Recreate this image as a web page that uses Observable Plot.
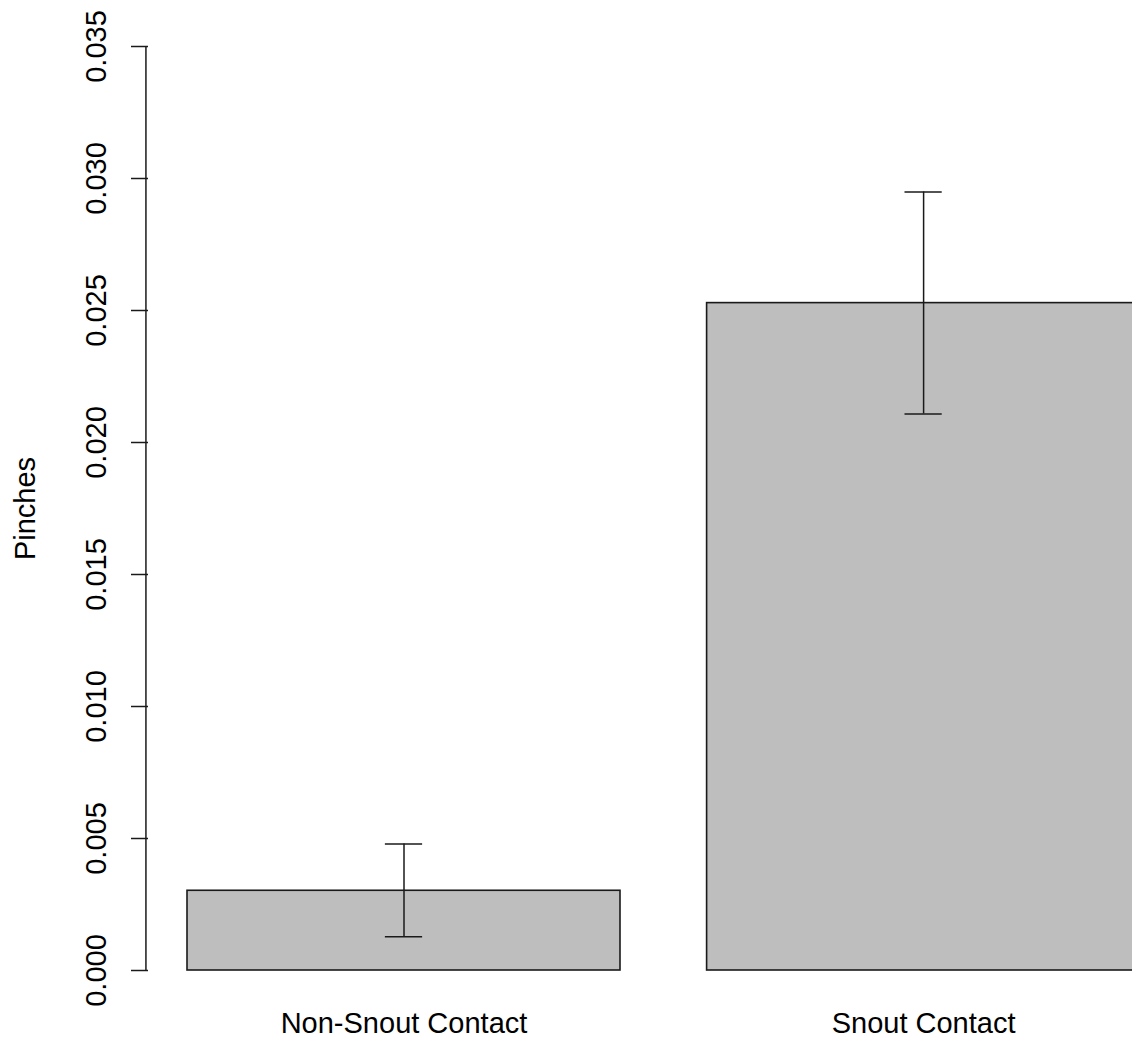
<!DOCTYPE html>
<html>
<head>
<meta charset="utf-8">
<script src="https://cdn.jsdelivr.net/npm/d3@7"></script>
<script src="https://cdn.jsdelivr.net/npm/@observablehq/plot@0.6"></script>
<style>
  html, body { margin: 0; padding: 0; background: white; overflow: hidden; }
</style>
</head>
<body>
<div id="chart"></div>
<script>
const categories = ["Non-Snout Contact", "Snout Contact"];
const means = [0.00302, 0.02528];
const lower = [0.00128, 0.02108];
const upper = [0.00479, 0.02949];
const yTicks = [0, 0.005, 0.010, 0.015, 0.020, 0.025, 0.030, 0.035];
const yLabel = "Pinches";

// R barplot layout: width 1, space 0.2, x range extended 4%
const space = 0.2, barW = 1;
const rows = categories.map((c, i) => {
  const x1 = space + i * (barW + space);
  return {cat: c, x1, x2: x1 + barW, xc: x1 + barW / 2, mean: means[i], lo: lower[i], hi: upper[i]};
});
const xMax = space + categories.length * (barW + space);
const axisPos = space - 0.04 * (xMax - space);
const cap = 0.043;
const ink = "#1a1a1a";
const fs = 29;

const chart = Plot.plot({
  width: 1132,
  height: 1040,
  marginLeft: 148,
  marginRight: 0,
  marginTop: 46,
  marginBottom: 70,
  style: {fontFamily: "'Liberation Sans', Arial, sans-serif", fontSize: fs + "px", background: "white", color: "black"},
  x: {type: "linear", domain: [0, 2.4], range: [100.4, 1139.6], axis: null},
  y: {domain: [0, 0.035], axis: null},
  marks: [
    Plot.rect(rows, {x1: "x1", x2: "x2", y1: 0, y2: "mean", fill: "#bebebe", stroke: ink, strokeWidth: 1.6}),
    Plot.ruleX(rows, {x: "xc", y1: "lo", y2: "hi", stroke: ink, strokeWidth: 1.5}),
    Plot.ruleY(rows, {y: "hi", x1: d => d.xc - cap, x2: d => d.xc + cap, stroke: ink, strokeWidth: 1.5}),
    Plot.ruleY(rows, {y: "lo", x1: d => d.xc - cap, x2: d => d.xc + cap, stroke: ink, strokeWidth: 1.5}),
    Plot.ruleX([axisPos], {y1: 0, y2: 0.035, stroke: ink, strokeWidth: 1.5}),
    Plot.axisY({ticks: yTicks, tickFormat: d3.format(".3f"), tickSize: 17, tickRotate: -90, tickPadding: 26, fontSize: fs, label: null, stroke: ink, strokeWidth: 1.5, strokeOpacity: 1}),
    Plot.text(rows, {x: "xc", text: "cat", frameAnchor: "bottom", lineAnchor: "top", dy: 42, fontSize: fs, fill: "black"}),
    Plot.text([yLabel], {frameAnchor: "left", textAnchor: "middle", dx: -123, rotate: -90, fontSize: fs, fill: "black"})
  ]
});
document.getElementById("chart").appendChild(chart);
</script>
</body>
</html>
